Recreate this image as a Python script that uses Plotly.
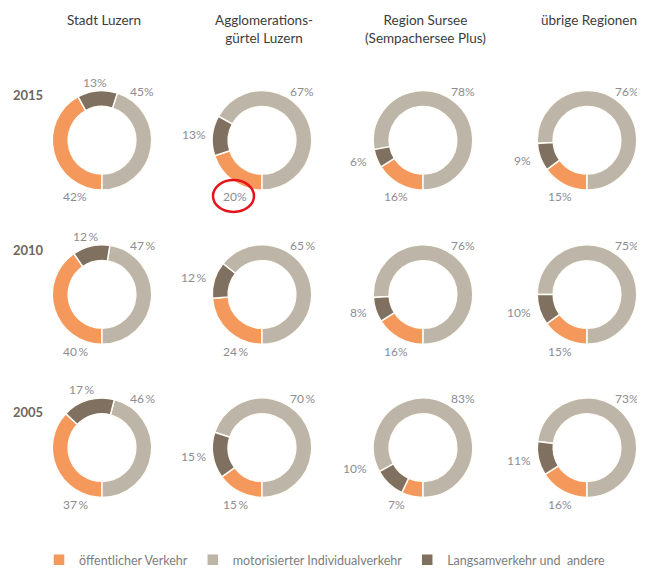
import math
import plotly.graph_objects as go

# ---------------- data ----------------
years = ["2015", "2010", "2005"]
regions = ["Stadt Luzern", "Agglomerations-<br>gürtel Luzern",
           "Region Sursee<br>(Sempachersee Plus)", "übrige Regionen"]
categories = ["öffentlicher Verkehr", "motorisierter Individualverkehr",
              "Langsamverkehr und\u00a0 andere"]

# shares in %, per year (rows) and region (columns)
oev = {"2015": [42, 20, 16, 15], "2010": [40, 24, 16, 15], "2005": [37, 15, 7, 16]}
miv = {"2015": [45, 67, 78, 76], "2010": [47, 65, 76, 75], "2005": [46, 70, 83, 73]}
lv = {"2015": [13, 13, 6, 9], "2010": [12, 12, 8, 10], "2005": [17, 15, 10, 11]}

colors = ["#F4985C", "#BDB5A8", "#7F705F"]

# ---------------- layout config ----------------
PAGE_W, PAGE_H = 645, 575
OFF = 8                      # default body margin of the html page
FW, FH = PAGE_W - OFF, PAGE_H - OFF
col_cx = [102, 262, 423, 587]
row_cy = [141, 296, 450]
row_label_y = [95, 251, 414]
R = 50
pct_color = "#8d8c91"
FONT = "Lato, 'Open Sans', sans-serif"


def fx(x):
    return (x - OFF) / FW


def fy(y):
    return 1 - (y - OFF) / FH


fig = go.Figure()
annotations = []
pct_font = dict(size=12, color=pct_color, family=FONT)

for ri, yr in enumerate(years):
    for ci in range(len(regions)):
        cx, cy = col_cx[ci], row_cy[ri]
        vals = [oev[yr][ci], miv[yr][ci], lv[yr][ci]]
        total = sum(vals)
        # ÖV lies clockwise from 6 o'clock, MIV/LV follow counterclockwise
        fig.add_trace(go.Pie(
            labels=categories,
            values=vals,
            marker=dict(colors=colors, line=dict(color="#FFFDF8", width=1.5)),
            hole=0.68, sort=False, direction="counterclockwise",
            rotation=180,
            textinfo="none", hoverinfo="label+percent",
            domain=dict(x=[fx(cx - R), fx(cx + R)], y=[fy(cy + R), fy(cy - R)]),
            showlegend=(ri == 0 and ci == 0),
        ))
        sep = "\u2009" if (ri > 0 and ci < 2) else ""
        # MIV label (top right)
        annotations.append(dict(x=fx(cx + 40), y=fy(cy - 49), text=f"{vals[1]}{sep}%",
                                showarrow=False, xanchor="center", yanchor="middle",
                                font=pct_font))
        # ÖV label (below, slightly left)
        annotations.append(dict(x=fx(cx - 27), y=fy(cy + 57), text=f"{vals[0]}{sep}%",
                                showarrow=False, xanchor="center", yanchor="middle",
                                font=pct_font))
        # LV label near the middle angle of its slice
        theta = math.radians((vals[0] + vals[2] / 2) / total * 360)
        dx, dy = -math.sin(theta), math.cos(theta)
        if abs(dx) > 0.5:
            lx, ly, xa = cx - 54, cy + max(-20, min(21, 60 * dy)), "right"
        else:
            lx, ly, xa = cx + 75 * dx, cy - 58, "center"
        annotations.append(dict(x=fx(lx), y=fy(ly), text=f"{vals[2]}{sep}%",
                                showarrow=False, xanchor=xa, yanchor="middle",
                                font=pct_font))

# column headers
for ci, reg in enumerate(regions):
    annotations.append(dict(x=fx(col_cx[ci] + 2), y=fy(10), text=reg, showarrow=False,
                            xanchor="center", yanchor="top", align="center",
                            font=dict(size=13.5, color="#3c3c3c", family=FONT)))
# row labels
for ri, yr in enumerate(years):
    annotations.append(dict(x=fx(11), y=fy(row_label_y[ri]), text=f"<b>{yr}</b>",
                            showarrow=False, xanchor="left", yanchor="middle",
                            font=dict(size=13, color="#6f665b", family=FONT)))

fig.update_layout(
    width=FW, height=FH,
    margin=dict(l=0, r=0, t=0, b=0),
    paper_bgcolor="white", plot_bgcolor="white",
    annotations=annotations,
    shapes=[dict(type="circle", xref="paper", yref="paper",
                 x0=fx(213), x1=fx(254), y0=fy(213), y1=fy(181),
                 line=dict(color="#E5141B", width=2.5))],
    legend=dict(orientation="h", x=fx(39), y=fy(563), xanchor="left", yanchor="middle",
                font=dict(size=12.5, color="#7d7d7d", family=FONT),
                itemwidth=30, traceorder="normal"),
)

fig.write_html("out.html")
